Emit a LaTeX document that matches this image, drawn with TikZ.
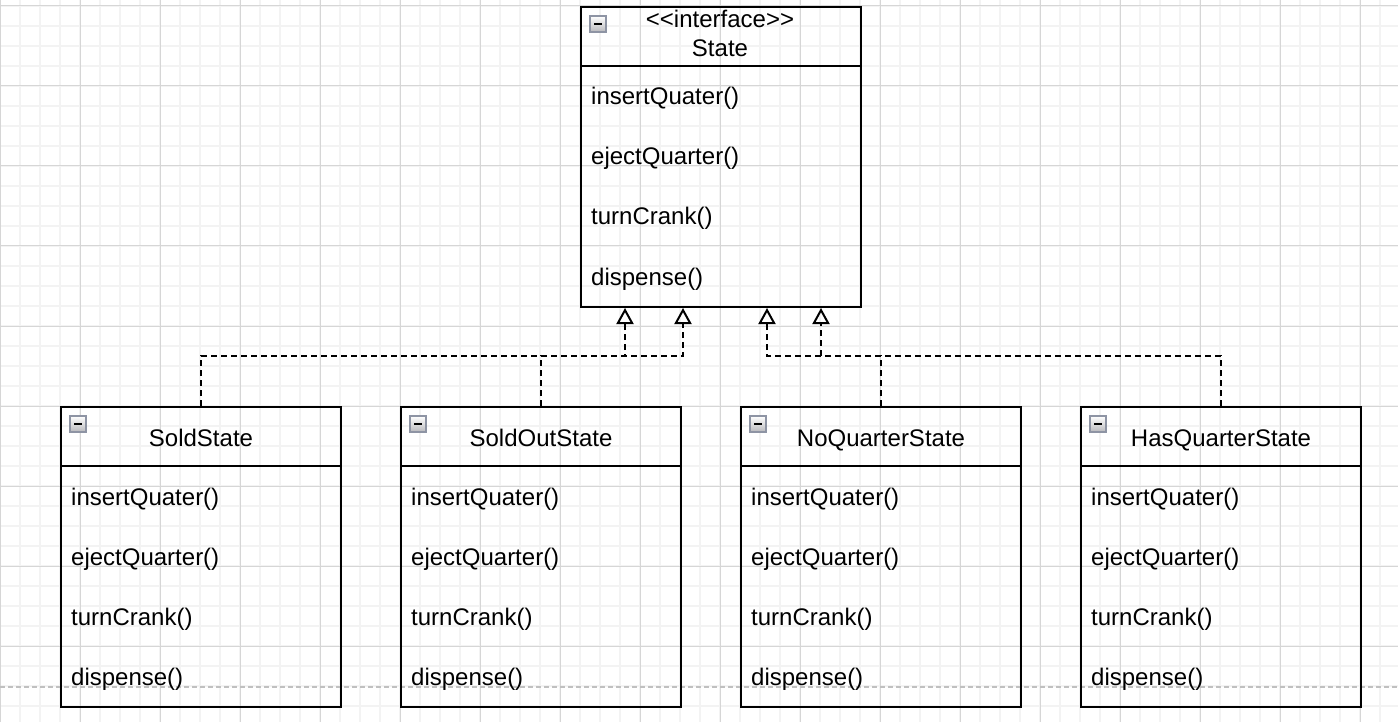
\documentclass[tikz,border=0pt]{standalone}
\usepackage{fontspec}
\setmainfont{Liberation Sans}
\usetikzlibrary{arrows.meta,calc}
\definecolor{gridminor}{HTML}{F3F3F3}
\definecolor{gridmajor}{HTML}{D6D6D6}
\definecolor{pagebreak}{HTML}{C0C0C0}
\definecolor{iconborder}{HTML}{8E94A4}
\definecolor{iconbottom}{HTML}{B8B8BC}
\tikzset{
  classbox/.style={draw=black, line width=2pt, minimum width=280pt, minimum height=300pt, inner sep=0pt},
  membertext/.style={anchor=base west, inner sep=0pt, font=\fontsize{24pt}{28pt}\selectfont},
  headtext/.style={anchor=base, inner sep=0pt, font=\fontsize{24pt}{28pt}\selectfont},
  sepline/.style={line width=2pt},
  iconbox/.style={draw=iconborder, line width=1.5pt, top color=white, bottom color=iconbottom},
  iconminus/.style={line width=2pt, black},
  dep/.style={line width=2pt, dash pattern=on 6pt off 4pt, -{Triangle[open, length=16pt, width=17pt, line width=2pt]}},
  minorline/.style={gridminor, line width=2pt},
  majorline/.style={gridmajor, line width=1pt},
}
\begin{document}
\begin{tikzpicture}[x=1pt, y=-1pt]
\useasboundingbox (0,0) rectangle (1398,722);
\fill[white] (0,0) rectangle (1398,722);
% grid
\foreach \x in {20,40,...,1390} \draw[minorline] (\x,0) -- (\x,722);
\foreach \y in {6,26,...,720} \draw[minorline] (0,\y) -- (1398,\y);
\foreach \x in {0,80,...,1390} \draw[majorline] (\x,0) -- (\x,722);
\foreach \y in {6,86,...,720} \draw[majorline] (0,\y) -- (1398,\y);
% page break line
\draw[pagebreak, line width=1.5pt, dash pattern=on 5pt off 3pt] (0,687) -- (1398,687);

% interface State
\node[classbox] (state) at (721,157) {};
\draw[sepline] ($(state.north west)+(0,60)$) -- ($(state.north east)+(0,60)$);
\draw[iconbox] ($(state.north west)+(10,10)$) rectangle ++(16,16);
\draw[iconminus] ($(state.north west)+(14,18)$) -- ++(8,0);
\node[headtext] (stereo) at (720,28) {\textless{}\textless{}interface\textgreater{}\textgreater{}};
\node[headtext] (statename) at (720,57) {State};
\foreach \m [count=\i] in {insertQuater(),ejectQuarter(),turnCrank(),dispense()}
  \node[membertext] (state-m\i) at ($(state.north west)+(11,39+60*\i)$) {\m};

% implementing classes
\foreach \cx/\nm/\title in {201/sold/SoldState, 541/soldout/SoldOutState, 881/noquarter/NoQuarterState, 1221/hasquarter/HasQuarterState}{
  \node[classbox] (\nm) at (\cx,557) {};
  \draw[sepline] ($(\nm.north west)+(0,60)$) -- ($(\nm.north east)+(0,60)$);
  \draw[iconbox] ($(\nm.north west)+(10,10)$) rectangle ++(16,16);
  \draw[iconminus] ($(\nm.north west)+(14,18)$) -- ++(8,0);
  \node[headtext] (\nm-title) at (\cx,446) {\title};
  \foreach \m [count=\i] in {insertQuater(),ejectQuarter(),turnCrank(),dispense()}
    \node[membertext] (\nm-m\i) at ($(\nm.north west)+(11,39+60*\i)$) {\m};
}

% realization connectors
\draw[dep] (sold.north) -- ++(0,-50) -| ($(state.south)+(-96,0)$);
\draw[dep] (soldout.north) -- ++(0,-50) -| ($(state.south)+(-38,0)$);
\draw[dep] (noquarter.north) -- ++(0,-50) -| ($(state.south)+(46,0)$);
\draw[dep] (hasquarter.north) -- ++(0,-50) -| ($(state.south)+(100,0)$);
\end{tikzpicture}
\end{document}
